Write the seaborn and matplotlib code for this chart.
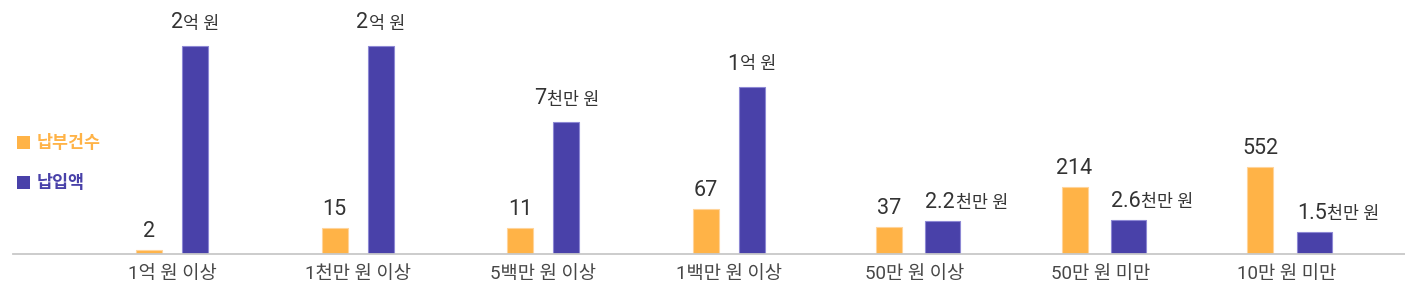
import matplotlib
matplotlib.use("Agg")
import matplotlib.pyplot as plt
import seaborn as sns
import pandas as pd
from matplotlib.patches import Rectangle
from matplotlib.offsetbox import TextArea, HPacker, AnnotationBbox

# ---- data ----
categories = ["1억 원 이상", "1천만 원 이상", "5백만 원 이상", "1백만 원 이상",
              "50만 원 이상", "50만 원 미만", "10만 원 미만"]
series_names = ["납부건수", "납입액"]
count_labels = ["2", "15", "11", "67", "37", "214", "552"]
amount_nums = ["2", "2", "7", "1", "2.2", "2.6", "1.5"]
amount_units = ["억 원", "억 원", "천만 원", "억 원", "천만 원", "천만 원", "천만 원"]
# bar lengths (the chart is not drawn to a linear scale)
count_bar = [4, 26, 26, 45, 27, 67, 87]
amount_bar = [208, 208, 132, 167, 33, 34, 22]

ORANGE = "#FFB347"
PURPLE = "#4941A9"

df = pd.DataFrame({
    "구간": categories * 2,
    "series": [series_names[0]] * len(categories) + [series_names[1]] * len(categories),
    "bar": count_bar + amount_bar,
})

sns.set_theme(style="white")
plt.rcParams["font.family"] = ["Roboto", "Noto Sans CJK KR", "DejaVu Sans"]

W, H = 1405, 301
fig = plt.figure(figsize=(W / 100, H / 100), dpi=100)
ax = fig.add_axes([13 / W, 47 / H, 1 - 13 / W, 1 - 47 / H])

sns.barplot(data=df, x="구간", y="bar", hue="series", order=categories,
            hue_order=series_names, palette=[ORANGE, PURPLE], saturation=1,
            errorbar=None, width=0.5, legend=False, ax=ax)

step = 185.7  # px per category
ax.set_xlim(-159 / step, (1405 - 172) / step)
ax.set_ylim(0, 254)

patches = list(ax.patches)
n = len(categories)
wide = [False, False, False, False, True, True, True]
for i, p in enumerate(patches[:n]):
    w = 26 / step
    off = (-26 if wide[i] else -23) / step
    p.set_width(w)
    p.set_x(i + off - w / 2)
    p.set_edgecolor("#FFD49A")
    p.set_linewidth(0.8)
for i, p in enumerate(patches[n:2 * n]):
    w = (35 if wide[i] else 26) / step
    off = (28 if wide[i] else 23) / step
    p.set_width(w)
    p.set_x(i + off - w / 2)
    p.set_edgecolor("#8D88D4")
    p.set_linewidth(0.8)

TXT = "#333333"


def add_label(x, y, num, unit, left, gap):
    parts = [TextArea(num, textprops=dict(size=15.5, color=TXT))]
    if unit:
        parts.append(TextArea(unit, textprops=dict(size=12.5, color=TXT)))
    box = HPacker(children=parts, align="baseline", pad=0, sep=0.5)
    ab = AnnotationBbox(box, (x, y), xybox=(0, gap), xycoords="data",
                        boxcoords="offset points",
                        box_alignment=(0 if left else 0.5, 0),
                        frameon=False, pad=0, annotation_clip=False)
    ax.add_artist(ab)


for i, p in enumerate(patches[:n]):
    add_label(p.get_x() + p.get_width() / 2, p.get_height(), count_labels[i], None, False, 6)
for i, p in enumerate(patches[n:2 * n]):
    if wide[i]:
        add_label(p.get_x(), p.get_height(), amount_nums[i], amount_units[i], True, 6)
    else:
        add_label(p.get_x() + p.get_width() / 2, p.get_height(), amount_nums[i], amount_units[i], False, 9)

for s in ["top", "left", "right"]:
    ax.spines[s].set_visible(False)
ax.spines["bottom"].set_color("#C8C8C8")
ax.spines["bottom"].set_linewidth(1.3)
ax.set_xlabel("")
ax.set_ylabel("")
ax.set_yticks([])
ax.tick_params(axis="x", length=0, pad=8, labelsize=13.5, labelcolor="#474747")

# legend
for k, (name, col, yc) in enumerate([(series_names[0], ORANGE, 142), (series_names[1], PURPLE, 182)]):
    fig.add_artist(Rectangle((17 / W, 1 - (yc + 6.5) / H), 13 / W, 13 / H,
                             transform=fig.transFigure, facecolor=col, edgecolor="none"))
    fig.text(37 / W, 1 - yc / H, name, color=col, fontsize=12.5, fontweight="bold",
             va="center", ha="left")

fig.savefig("out.png", dpi=100)
